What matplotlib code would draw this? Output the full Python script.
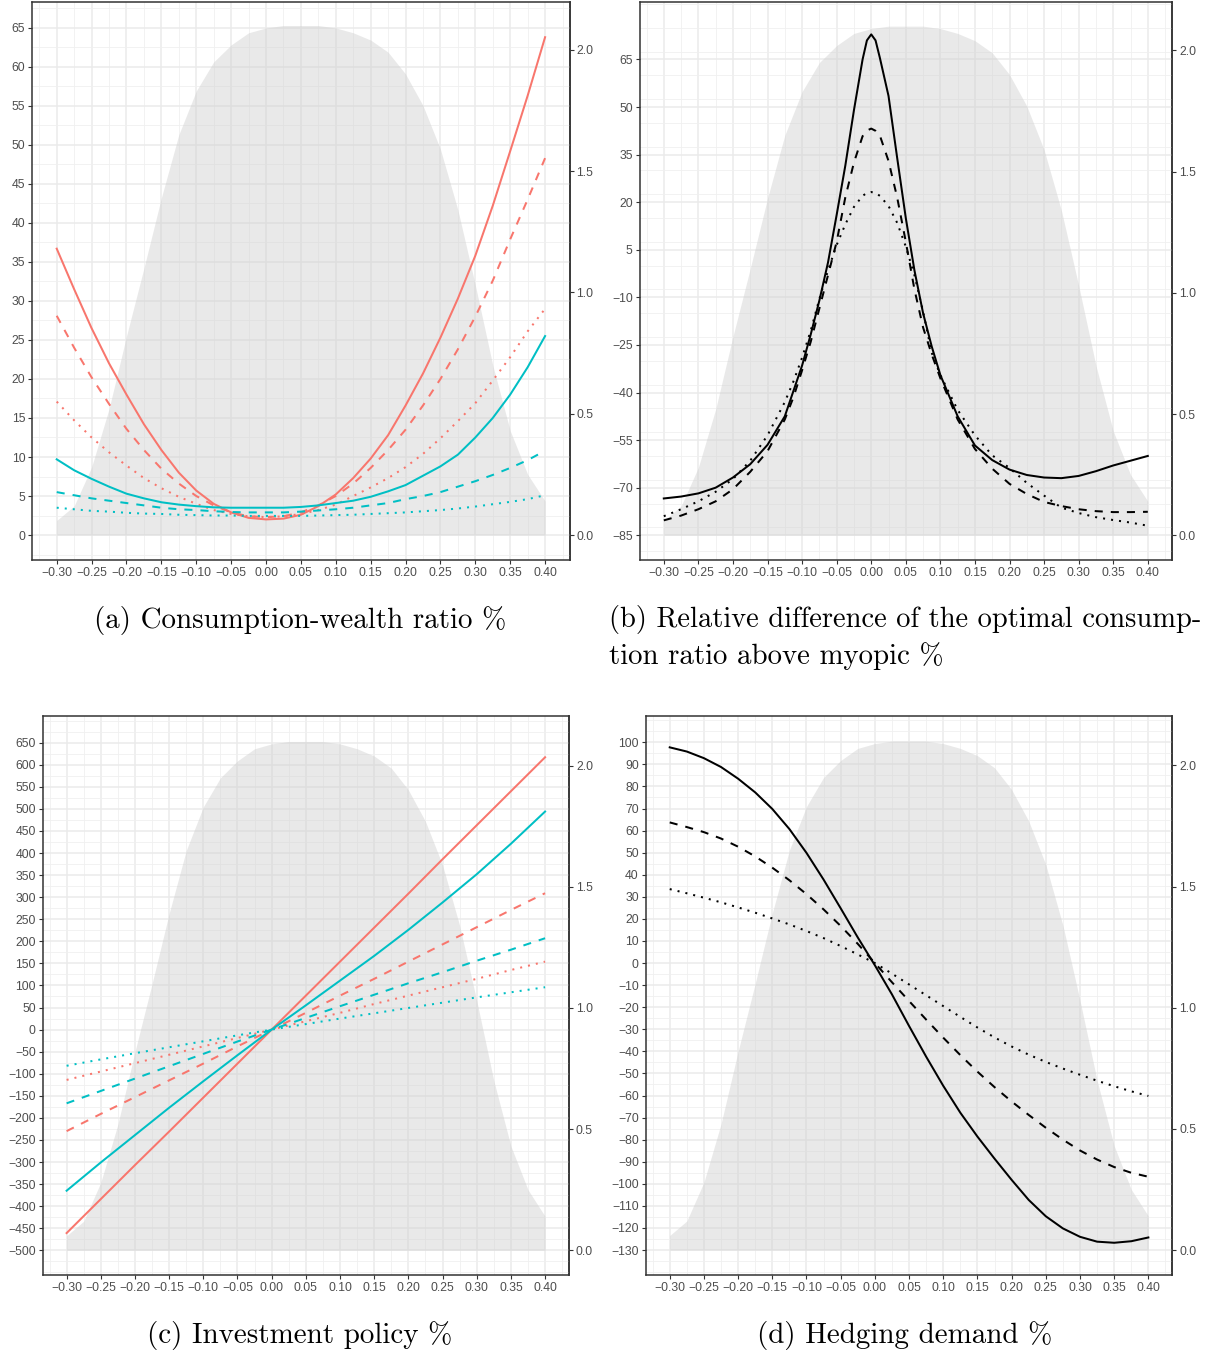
import numpy as np
import matplotlib
matplotlib.use("Agg")
import matplotlib.pyplot as plt
from matplotlib.ticker import MultipleLocator, FuncFormatter

RED = "#F8766D"
CYAN = "#00BFC4"

# ---------------- data ----------------
x = [-0.300, -0.275, -0.250, -0.225, -0.200, -0.175, -0.150, -0.125, -0.100,
     -0.075, -0.050, -0.025, 0.000, 0.025, 0.050, 0.075, 0.100, 0.125, 0.150,
     0.175, 0.200, 0.225, 0.250, 0.275, 0.300, 0.325, 0.350, 0.375, 0.400]

# density of the state variable (right axis, same in every panel)
density = [0.06, 0.12, 0.28, 0.52, 0.82, 1.10, 1.39, 1.65, 1.83, 1.95, 2.02, 2.07,
           2.09, 2.10, 2.10, 2.10, 2.09, 2.07, 2.04, 1.99, 1.90, 1.77, 1.59, 1.34,
           1.03, 0.70, 0.43, 0.25, 0.14]

# (a) consumption-wealth ratio %
a_red_solid = [36.7, 31.5, 26.5, 22.0, 18.0, 14.2, 10.9, 8.0, 5.7, 4.0, 2.9, 2.2,
               2.0, 2.1, 2.6, 3.7, 5.2, 7.3, 9.8, 12.8, 16.6, 20.7, 25.3, 30.3,
               35.8, 42.2, 49.2, 56.3, 63.8]
a_red_dashed = [28.1, 24.0, 20.2, 16.8, 13.6, 10.9, 8.5, 6.6, 5.0, 3.8, 2.9, 2.4,
                2.3, 2.4, 2.9, 3.8, 5.0, 6.6, 8.6, 10.9, 13.5, 16.6, 20.0, 23.8,
                28.0, 32.6, 37.9, 43.0, 48.3]
a_red_dotted = [17.1, 14.7, 12.5, 10.6, 8.9, 7.3, 6.0, 4.9, 4.0, 3.2, 2.7, 2.4,
                2.3, 2.4, 2.7, 3.2, 3.9, 5.0, 6.1, 7.3, 8.7, 10.4, 12.4, 14.6,
                16.9, 19.8, 22.8, 26.1, 29.0]
a_cyan_solid = [9.7, 8.3, 7.2, 6.2, 5.3, 4.7, 4.2, 3.9, 3.7, 3.55, 3.5, 3.5,
                3.5, 3.5, 3.6, 3.8, 4.1, 4.4, 4.9, 5.6, 6.4, 7.6, 8.8, 10.3,
                12.5, 15.0, 18.0, 21.5, 25.5]
a_cyan_dashed = [5.5, 5.1, 4.7, 4.4, 4.1, 3.8, 3.5, 3.3, 3.2, 3.05, 2.95, 2.9,
                 2.9, 2.9, 3.0, 3.15, 3.3, 3.5, 3.8, 4.1, 4.6, 5.0, 5.5, 6.2,
                 6.9, 7.7, 8.6, 9.6, 10.8]
a_cyan_dotted = [3.5, 3.3, 3.1, 3.0, 2.85, 2.75, 2.7, 2.6, 2.55, 2.5, 2.5, 2.45,
                 2.45, 2.45, 2.45, 2.5, 2.55, 2.6, 2.7, 2.8, 2.9, 3.05, 3.2, 3.4,
                 3.65, 3.95, 4.25, 4.6, 5.1]

# (b) relative difference of optimal consumption ratio above myopic %
xb = [-0.300, -0.275, -0.250, -0.225, -0.200, -0.175, -0.150, -0.125, -0.1125,
      -0.100, -0.0875, -0.075, -0.0625, -0.050, -0.0375, -0.025, -0.0125, -0.00625,
      0.000, 0.00625, 0.0125, 0.025, 0.0375, 0.050, 0.0625, 0.075, 0.0875, 0.100,
      0.125, 0.150, 0.175, 0.200, 0.225, 0.250, 0.275, 0.300, 0.325, 0.350, 0.375,
      0.400]
b_solid = [-73.4, -72.8, -71.8, -70.0, -66.8, -62.6, -56.5, -47.5, -39.5,
           -31.5, -21.7, -11.0, 1.0, 16.0, 31.5, 49.0, 65.0, 71.0,
           72.9, 71.0, 65.5, 53.5, 34.0, 15.0, -1.5, -15.0, -25.5, -34.5,
           -47.5, -56.7, -61.3, -64.3, -66.0, -66.8, -67.0, -66.3, -64.8, -63.0,
           -61.5, -60.0]
b_dashed = [-80.3, -78.8, -76.8, -74.3, -70.5, -65.0, -58.5, -48.5, -41.5,
            -33.0, -24.0, -13.5, -3.0, 7.5, 21.5, 32.5, 40.8, 42.6,
            43.2, 42.5, 41.0, 33.0, 21.5, 7.5, -7.5, -19.5, -28.0, -35.5,
            -48.5, -57.8, -64.0, -68.8, -72.0, -74.5, -75.8, -76.8, -77.4, -77.7,
            -77.7, -77.6]
b_dotted = [-79.0, -76.8, -74.3, -71.3, -67.3, -61.5, -53.5, -43.0, -36.5,
            -29.0, -20.5, -10.5, -1.5, 6.5, 13.0, 18.5, 22.0, 22.9,
            23.2, 22.9, 22.0, 18.8, 13.5, 6.0, -3.0, -14.5, -27.5, -34.5,
            -45.5, -53.5, -59.8, -63.8, -68.5, -72.5, -76.3, -78.0, -79.3, -80.2,
            -81.0, -82.0]

# (c) investment policy %
xc = [-0.30, -0.25, -0.20, -0.15, -0.10, -0.05, 0.00, 0.05, 0.10, 0.15, 0.20,
      0.25, 0.30, 0.35, 0.40]
c_red_solid = [-461, -384, -307, -231, -154, -77, 0, 77, 154, 231, 308, 386, 463, 540, 617]
c_red_dashed = [-230, -191, -153, -115, -77, -38, 0, 38, 77, 115, 154, 193, 232, 271, 309]
c_red_dotted = [-114, -95, -76, -57, -38, -19, 0, 19, 38, 58, 77, 96, 115, 135, 154]
c_cyan_solid = [-365, -301, -239, -177, -117, -58, 0, 55, 111, 167, 226, 288, 352, 421, 494]
c_cyan_dashed = [-167, -139, -111, -83, -55, -27, 0, 26.5, 53, 79, 105, 130, 156, 181, 207]
c_cyan_dotted = [-82, -67.5, -53.5, -40, -26.5, -13, 0, 12.5, 25, 37, 49, 61, 73, 84.5, 96]

# (d) hedging demand %
d_solid = [97.7, 95.8, 92.8, 88.8, 83.5, 77.3, 69.8, 60.7, 49.9, 37.8, 24.8, 11.6,
           -1.0, -14.2, -28.5, -42.4, -55.6, -67.8, -78.6, -88.6, -98.2, -107.3,
           -114.7, -120.2, -124.0, -126.2, -126.7, -126.0, -124.3]
d_dashed = [63.7, 61.6, 59.3, 56.4, 52.7, 48.3, 43.2, 37.5, 31.2, 24.3, 16.8, 8.7,
            0.0, -8.7, -17.2, -25.6, -33.8, -41.7, -49.2, -56.2, -62.7, -68.8,
            -74.6, -80.0, -84.9, -89.0, -92.4, -95.0, -96.8]
d_dotted = [33.5, 31.6, 29.6, 27.5, 25.2, 22.8, 20.2, 17.5, 14.5, 11.3, 7.7, 3.9,
            0.0, -4.8, -9.7, -14.6, -19.5, -24.4, -29.2, -33.7, -37.8, -41.5,
            -44.8, -47.8, -50.6, -53.3, -55.8, -58.1, -60.2]

captions = ["(a) Consumption-wealth ratio %",
            "(b) Relative difference of the optimal consump-",
            "tion ratio above myopic %",
            "(c) Investment policy %",
            "(d) Hedging demand %"]

# ---------------- styling ----------------
W, H = 1206, 1353
fig = plt.figure(figsize=(W / 100, H / 100), dpi=100)
plt.rcParams["font.family"] = ["Liberation Sans", "DejaVu Sans"]

LW = 1.45
STY = {"solid": dict(linestyle="-"),
       "dashed": dict(linestyle=(0, (4, 4))),
       "dotted": dict(linestyle=(0, (1, 3)))}


def px_rect(l, r, t, b):
    return [l / W, 1 - b / H, (r - l) / W, (b - t) / H]


def fmt_minus(fmt):
    return FuncFormatter(lambda v, p: (fmt % v).replace("-", "\u2212"))


def setup(rect, ylim, ymajor, yminor, sec_p0, sec_k):
    ax = fig.add_axes(rect)
    ax.set_xlim(-0.335, 0.435)
    ax.set_ylim(*ylim)
    ax.xaxis.set_minor_locator(MultipleLocator(0.025))
    ax.yaxis.set_major_locator(MultipleLocator(ymajor))
    ax.yaxis.set_minor_locator(MultipleLocator(yminor))
    ax.set_xticks([v / 100 for v in range(-30, 41, 5)])
    ax.xaxis.set_major_formatter(fmt_minus("%.2f"))
    ax.yaxis.set_major_formatter(fmt_minus("%d"))
    ax.grid(which="major", color="#EBEBEB", linewidth=1.1, zorder=0)
    ax.grid(which="minor", color="#F0F0F0", linewidth=0.6, zorder=0)
    ax.set_axisbelow(True)
    ax.tick_params(which="major", direction="out", length=3, width=0.8,
                   color="#333333", labelcolor="#4D4D4D", labelsize=8.8, pad=2)
    ax.tick_params(which="minor", length=0)
    for s in ax.spines.values():
        s.set_color("#333333")
        s.set_linewidth(1.1)
    sec = ax.secondary_yaxis("right",
                             functions=(lambda p: (p - sec_p0) * sec_k,
                                        lambda s: s / sec_k + sec_p0))
    sec.set_yticks([0.0, 0.5, 1.0, 1.5, 2.0])
    sec.yaxis.set_major_formatter(fmt_minus("%.1f"))
    sec.tick_params(direction="out", length=3, width=0.8, color="#333333",
                    labelcolor="#4D4D4D", labelsize=8.8, pad=2)
    sec.spines["right"].set_color("#333333")
    sec.spines["right"].set_linewidth(1.1)
    # density drawn in primary units through the secondary-axis inverse
    dens_p = [d / sec_k + sec_p0 for d in density]
    ax.fill_between(x, sec_p0, dens_p, color="#CFCFCF", alpha=0.45,
                    linewidth=0, zorder=1)
    return ax


# (a)
axa = setup(px_rect(32.3, 569.5, 1.7, 560), (-3.2, 68.35), 5, 2.5, 0.0, 0.03216)
for ys, col, st in [(a_red_solid, RED, "solid"), (a_red_dashed, RED, "dashed"),
                    (a_red_dotted, RED, "dotted"), (a_cyan_solid, CYAN, "solid"),
                    (a_cyan_dashed, CYAN, "dashed"), (a_cyan_dotted, CYAN, "dotted")]:
    axa.plot(x, ys, color=col, lw=LW, zorder=3, **STY[st])

# (b)
axb = setup(px_rect(639.6, 1172, 1.7, 560), (-92.8, 83.2), 15, 7.5, -85.0, 0.013085)
axb.set_yticks(list(range(-85, 66, 15)))
for ys, st in [(b_solid, "solid"), (b_dashed, "dashed"), (b_dotted, "dotted")]:
    axb.plot(xb, ys, color="black", lw=LW, zorder=3, **STY[st])

# (c)
axc = setup(px_rect(42.7, 569, 716, 1275), (-556, 710.5), 50, 25, -500.0, 0.0018217)
axc.set_yticks(list(range(-500, 651, 50)))
for ys, col, st in [(c_red_solid, RED, "solid"), (c_red_dashed, RED, "dashed"),
                    (c_red_dotted, RED, "dotted"), (c_cyan_solid, CYAN, "solid"),
                    (c_cyan_dashed, CYAN, "dashed"), (c_cyan_dotted, CYAN, "dotted")]:
    axc.plot(xc, ys, color=col, lw=LW, zorder=3, **STY[st])

# (d)
axd = setup(px_rect(645.8, 1172.3, 716, 1275), (-141.3, 111.9), 10, 5, -130.0, 0.00911)
axd.set_yticks(list(range(-130, 101, 10)))
for ys, st in [(d_solid, "solid"), (d_dashed, "dashed"), (d_dotted, "dotted")]:
    axd.plot(x, ys, color="black", lw=LW, zorder=3, **STY[st])

# captions (LaTeX-like serif)
cap_kw = dict(family=["cmr10", "DejaVu Serif"], color="black", va="center")
fig.text(300 / W, 1 - 620 / H, captions[0], ha="center", fontsize=20.9, **cap_kw)
fig.text(609 / W, 1 - 620 / H, captions[1], ha="left", fontsize=20.5, **cap_kw)
fig.text(609 / W, 1 - 656 / H, captions[2], ha="left", fontsize=20.8, **cap_kw)
fig.text(300 / W, 1 - 1335 / H, captions[3], ha="center", fontsize=20.9, **cap_kw)
fig.text(905 / W, 1 - 1335 / H, captions[4], ha="center", fontsize=20.9, **cap_kw)

fig.savefig("out.png", dpi=100)
